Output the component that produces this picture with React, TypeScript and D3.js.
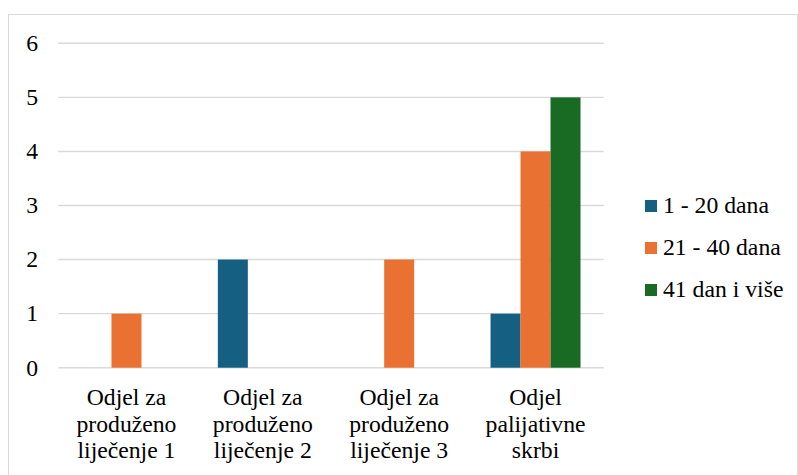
import React from "react";
import * as d3 from "d3";

const categories: string[][] = [
  ["Odjel za", "produženo", "liječenje 1"],
  ["Odjel za", "produženo", "liječenje 2"],
  ["Odjel za", "produženo", "liječenje 3"],
  ["Odjel", "palijativne", "skrbi"],
];
const seriesNames = ["1 - 20 dana", "21 - 40 dana", "41 dan i više"];
const s1 = [0, 2, 0, 1];
const s2 = [1, 0, 2, 4];
const s3 = [0, 0, 0, 5];
const seriesValues = [s1, s2, s3];
const colors = ["#156082", "#E97132", "#196B24"];
const yTicks = [0, 1, 2, 3, 4, 5, 6];

const W = 798;
const H = 475;
const FONT = "Liberation Serif";
const BASE = 30;
const K = 0.79; // effective size ~23.7px

function T(props: { x: number; y: number; anchor?: string; children: React.ReactNode }) {
  return (
    <g transform={`translate(${props.x},${props.y}) scale(${K})`}>
      <text
        x={0}
        y={0}
        textAnchor={props.anchor || "start"}
        style={{ fontFamily: FONT, fontSize: BASE }}
        fill="#000"
      >
        {props.children}
      </text>
    </g>
  );
}

export default function App() {
  const left = 58.3;
  const right = 603.7;
  const y0 = 367.7;
  const y6 = 43.3;
  const catIdx = categories.map((_, i) => String(i));
  const x0 = d3.scaleBand<string>().domain(catIdx).range([left, right]).padding(0);
  const x1 = d3
    .scaleBand<string>()
    .domain(seriesNames)
    .range([0, x0.bandwidth()])
    .paddingInner(0)
    .paddingOuter(0.773);
  const y = d3.scaleLinear().domain([0, 6]).range([y0, y6]);
  const fs = BASE * K;

  return (
    <svg
      width={W}
      height={H}
      style={{ position: "absolute", left: 0, top: 0, background: "#fff" }}
    >
      <rect x={8.5} y={14.5} width={789} height={480} fill="#fff" stroke="#d9d9d9" strokeWidth={1} />
      {yTicks.map((t) => (
        <g key={t}>
          <line x1={left} x2={right} y1={y(t)} y2={y(t)} stroke="#d9d9d9" strokeWidth={1.4} />
          <T x={38} y={y(t) + fs * 0.33} anchor="end">
            {t}
          </T>
        </g>
      ))}
      {categories.map((c, ci) =>
        seriesNames.map((s, si) => {
          const v = seriesValues[si][ci];
          if (!v) return null;
          return (
            <rect
              key={`${ci}-${si}`}
              x={(x0(String(ci)) ?? 0) + (x1(s) ?? 0)}
              y={y(v)}
              width={x1.bandwidth()}
              height={y(0) - y(v)}
              fill={colors[si]}
            />
          );
        })
      )}
      {categories.map((c, ci) =>
        c.map((line, li) => (
          <T
            key={`${ci}-${li}`}
            x={(x0(String(ci)) ?? 0) + x0.bandwidth() / 2}
            y={405 + li * 26.7}
            anchor="middle"
          >
            {line}
          </T>
        ))
      )}
      {seriesNames.map((s, si) => (
        <g key={s}>
          <rect x={645} y={200 + si * 42} width={12} height={12} fill={colors[si]} />
          <T x={663} y={213 + si * 42}>
            {s}
          </T>
        </g>
      ))}
    </svg>
  );
}
